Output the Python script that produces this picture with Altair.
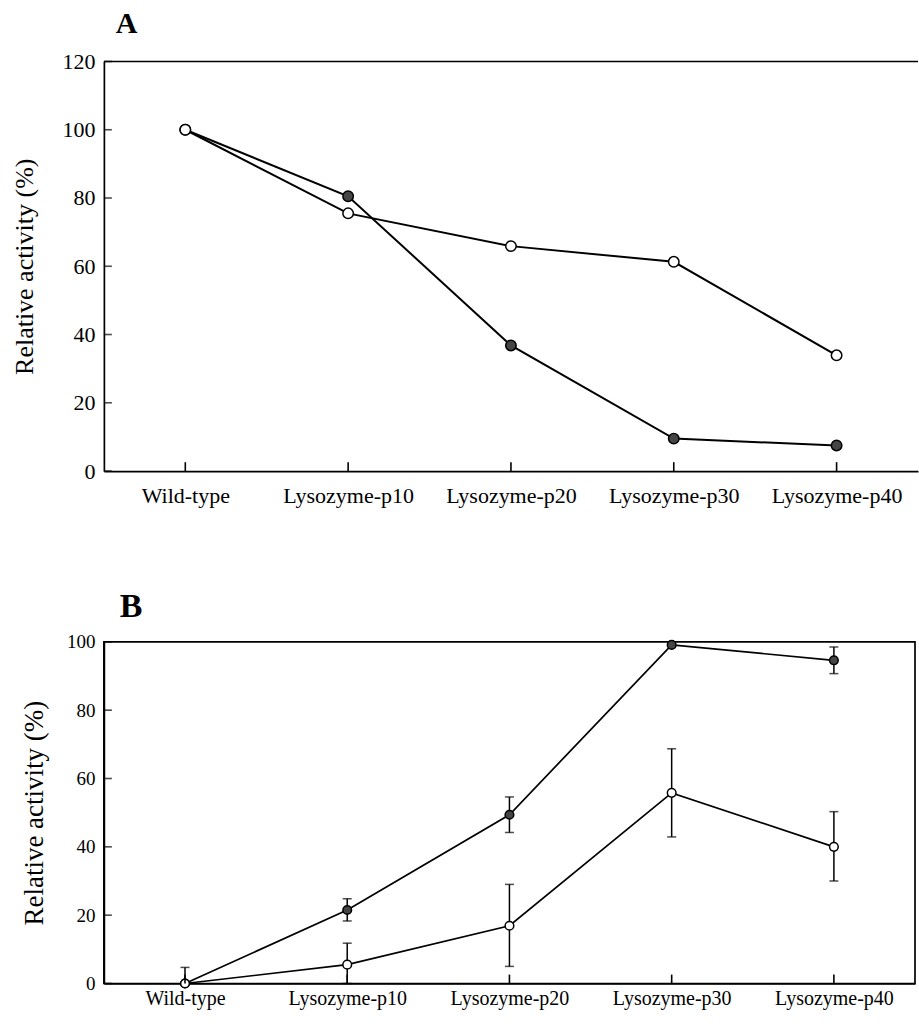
import altair as alt
import pandas as pd

cats = ["Wild-type", "Lysozyme-p10", "Lysozyme-p20", "Lysozyme-p30", "Lysozyme-p40"]

# Panel A
a_open = [100, 75.5, 65.9, 61.3, 33.9]
a_filled = [100, 80.5, 36.8, 9.5, 7.5]

# Panel B
b_filled = [0, 21.5, 49.4, 99.1, 94.6]
b_filled_lo = [None, 18.3, 44.2, None, 90.7]
b_filled_hi = [None, 24.8, 54.6, None, 98.5]
b_open = [0, 5.5, 16.9, 55.8, 40.0]
b_open_lo = [0, 0, 5.0, 42.9, 30.0]
b_open_hi = [4.7, 11.8, 29.0, 68.7, 50.3]

a_ticks = [0, 20, 40, 60, 80, 100, 120]
b_ticks = [0, 20, 40, 60, 80, 100]

FONT = "Liberation Serif"

dfA = pd.DataFrame({
    "cat": cats * 2,
    "series": ["filled"] * 5 + ["open"] * 5,
    "value": a_filled + a_open,
})
dfB = pd.DataFrame({
    "cat": cats * 2,
    "series": ["filled"] * 5 + ["open"] * 5,
    "value": b_filled + b_open,
    "lo": b_filled_lo + b_open_lo,
    "hi": b_filled_hi + b_open_hi,
})
dfB_err = dfB.dropna(subset=["lo", "hi"])

fill_scale = alt.Scale(domain=["filled", "open"], range=["#454545", "white"])


def panel(df, ymax, ticks, lab_size, tick_size, title_size, label_pad, title_pad, tick_len_data,
          size, lw):
    xs = alt.Scale(type="point", domain=cats, padding=0.5)
    ys = alt.Scale(domain=[0, ymax], nice=False)
    x_axis = alt.Axis(title=None, labelFont=FONT, labelFontSize=lab_size, labelColor="black",
                      labelOverlap=False, ticks=False, domainColor="black", domainWidth=1.7,
                      labelPadding=label_pad, grid=False, labelAngle=0)
    y_axis = alt.Axis(title="Relative activity (%)", titleFont=FONT, titleFontSize=title_size,
                      titleFontWeight="normal", titleColor="black", labelFont=FONT,
                      labelFontSize=tick_size, labelColor="black", ticks=False, values=ticks,
                      domainColor="black", domainWidth=1.7, labelPadding=9, grid=False,
                      titlePadding=title_pad)
    X = alt.X("cat:N", scale=xs, axis=x_axis, sort=cats)
    base = alt.Chart(df)
    lines = base.mark_line(color="black", strokeWidth=lw).encode(
        x=X,
        y=alt.Y("value:Q", scale=ys, axis=y_axis),
        detail="series:N",
    )
    pts = base.mark_point(filled=True, shape="circle", size=size, stroke="black",
                          strokeWidth=1.5, opacity=1).encode(
        x=X,
        y=alt.Y("value:Q", scale=ys, axis=y_axis),
        fill=alt.Fill("series:N", scale=fill_scale, legend=None),
        order=alt.Order("series:N"),
    )
    xt = alt.Chart(pd.DataFrame({"cat": cats, "y0": [0] * 5, "y1": [tick_len_data] * 5})).mark_rule(
        color="black", strokeWidth=1.6).encode(
        x=X, y=alt.Y("y0:Q", scale=ys, axis=y_axis), y2="y1:Q")
    yt = alt.Chart(pd.DataFrame({"v": ticks})).mark_tick(
        orient="horizontal", color="black", size=8, thickness=1.6).encode(
        y=alt.Y("v:Q", scale=ys, axis=y_axis), x=alt.value(4))
    return lines, pts, xt, yt, X, ys, y_axis


# ---- Panel A
WA, HA = 815, 410
linesA, ptsA, xtA, ytA, XA, ysA, yaxA = panel(dfA, 120, a_ticks, 22, 22, 26, 14, 24, 2.6, 110, 2.0)
topA = alt.Chart(pd.DataFrame({"v": [120]})).mark_rule(color="black", strokeWidth=1.7).encode(
    y=alt.Y("v:Q", scale=ysA, axis=yaxA), x=alt.value(0), x2=alt.value(WA))
chartA = alt.layer(linesA, ptsA, xtA, ytA, topA).properties(
    width=WA, height=HA,
    view=alt.ViewBackground(stroke=None),
    title=alt.TitleParams("A", anchor="start", frame="group", font=FONT, fontSize=30,
                          fontWeight="bold", color="black", dx=12, offset=12),
)

# ---- Panel B
WB, HB = 812, 342
linesB, ptsB, xtB, ytB, XB, ysB, yaxB = panel(dfB, 100, b_ticks, 20, 19, 27, 5, 18, 2.6, 75, 1.7)
err_rule = alt.Chart(dfB_err).mark_rule(color="black", strokeWidth=1.5).encode(
    x=XB, y=alt.Y("lo:Q", scale=ysB, axis=yaxB), y2="hi:Q")
cap_hi = alt.Chart(dfB_err).mark_tick(orient="horizontal", color="black", size=9, thickness=1.5).encode(
    x=XB, y=alt.Y("hi:Q", scale=ysB, axis=yaxB))
cap_lo = alt.Chart(dfB_err).mark_tick(orient="horizontal", color="black", size=9, thickness=1.5).encode(
    x=XB, y=alt.Y("lo:Q", scale=ysB, axis=yaxB))
chartB = alt.layer(linesB, err_rule, cap_hi, cap_lo, ptsB, xtB, ytB).properties(
    width=WB, height=HB,
    view=alt.ViewBackground(stroke="black", strokeWidth=1.7),
    title=alt.TitleParams("B", anchor="start", frame="group", font=FONT, fontSize=34,
                          fontWeight="bold", color="black", dx=16, offset=9),
)

chart = alt.vconcat(chartA, chartB, spacing=83).properties(
    padding={"left": 12, "top": 8, "right": 0, "bottom": 0},
    background="white",
).configure_view(stroke=None)

chart.save("out.html", embed_options={"renderer": "svg", "actions": False})
